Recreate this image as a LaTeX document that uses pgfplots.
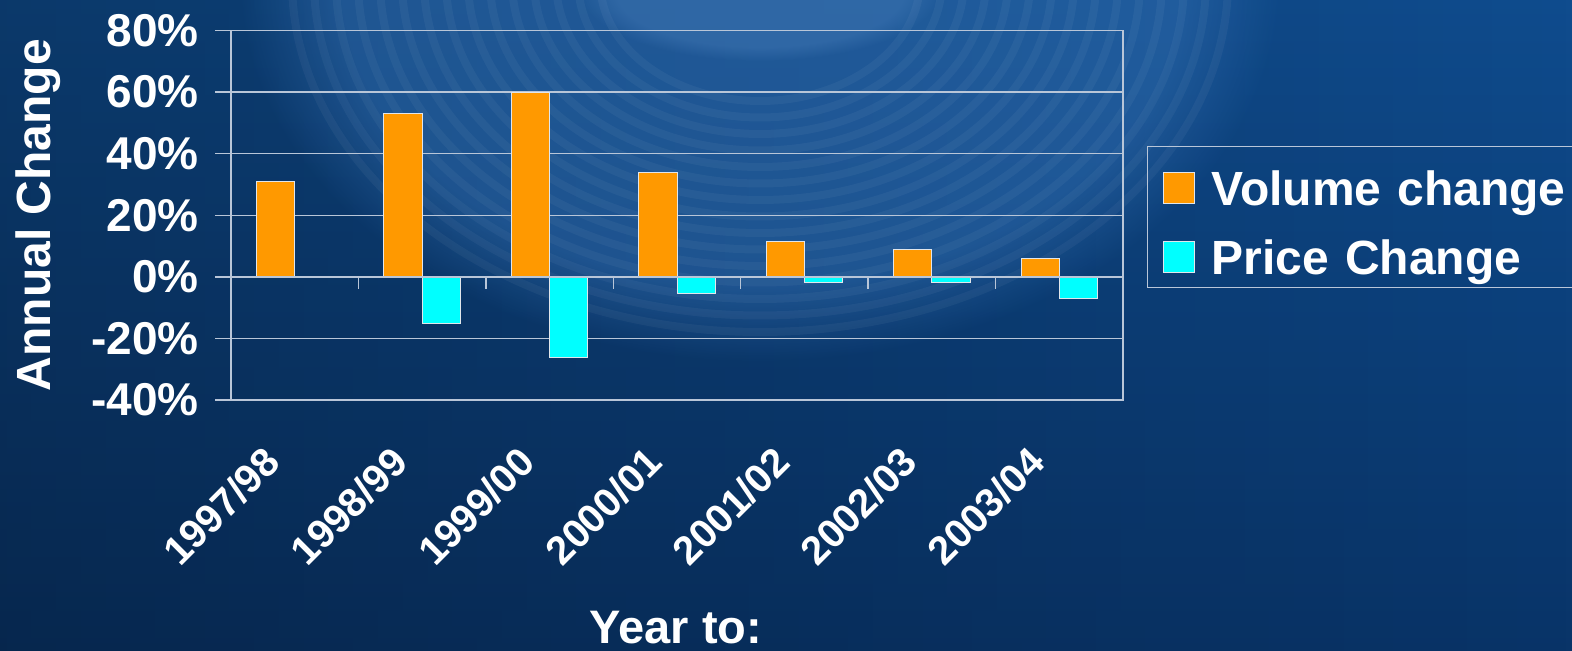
\documentclass[border=0pt]{standalone}
\usepackage{pgfplots}
\pgfplotsset{compat=1.18}
\usepackage{fontspec}
\setmainfont{Liberation Sans}
\usetikzlibrary{fadings}

\definecolor{bgtop}{RGB}{15,76,142}
\definecolor{bgbot}{RGB}{9,52,104}
\definecolor{ripple}{RGB}{55,118,188}
\definecolor{gridc}{RGB}{185,198,216}
\definecolor{volc}{RGB}{255,153,0}
\definecolor{pricec}{RGB}{0,255,255}
\definecolor{barline}{RGB}{225,230,235}

\pgfplotsset{
  swatch/.style={legend image code/.code={\draw[##1, line width=0.5pt] (0pt,0.85pt) rectangle (15.5pt,16.35pt);}},
  panel/.style={at={(115.5pt,125.5pt)}, anchor=south west,
    width=446pt, height=184.75pt, scale only axis,
    xmin=-0.5, xmax=6.5, ymin=-40, ymax=80},
}

\begin{document}
\begin{tikzpicture}
% backdrop: dark blue with a water ripple near the top
\shade[top color=bgtop, bottom color=bgbot] (0,0) rectangle (786pt,325.5pt);
\fill[black, opacity=0.25, path fading=east] (0,0) rectangle (786pt,325.5pt);
\begin{scope}
  \clip (0,0) rectangle (786pt,325.5pt);
  \fill[ripple, opacity=0.45, path fading=circle with fuzzy edge 20 percent]
    (380pt,335pt) ellipse [x radius=260pt, y radius=190pt];
  \fill[ripple!85!white, opacity=0.3, path fading=circle with fuzzy edge 20 percent]
    (380pt,330pt) ellipse [x radius=90pt, y radius=35pt];
  \foreach \r in {80,91,...,240}
    \draw[white, opacity=0.045, line width=4pt] (380pt,335pt) ellipse [x radius=\r pt, y radius={0.75*\r pt}];
\end{scope}

\begin{axis}[panel,
  axis line style={gridc, line width=0.7pt},
  ymajorgrids, grid style={gridc, line width=0.7pt},
  ytick={-40,-20,...,80}, ytick pos=left,
  yticklabels={-40\%,-20\%,0\%,20\%,40\%,60\%,80\%},
  y tick style={gridc, line width=0.7pt},
  tick align=outside, major tick length=8pt,
  yticklabel style={anchor=east, inner sep=0pt, xshift=-8pt,
    font=\bfseries\fontsize{23pt}{23pt}\selectfont, text=white},
  xtick={0,...,6},
  xticklabels={1997/98,1998/99,1999/00,2000/01,2001/02,2002/03,2003/04},
  x tick style={draw=none},
  xticklabel style={xshift=-11pt, yshift=-19.5pt, rotate=45, anchor=east, inner sep=0pt,
    font=\bfseries\fontsize{20pt}{20pt}\selectfont, text=white},
  ylabel={Annual Change},
  ylabel style={at={(axis description cs:-0.2029,0.5)}, anchor=base,
    font=\bfseries\fontsize{24pt}{24pt}\selectfont, text=white},
  xlabel={Year to:},
  xlabel style={at={(axis description cs:0.4989,-0.658)}, anchor=base,
    font=\bfseries\fontsize{23.5pt}{23.5pt}\selectfont, text=white},
  legend style={at={(axis description cs:1.0269,0.6874)}, anchor=north west,
    draw=gridc, fill=none, line width=0.7pt,
    inner xsep=7.5pt, inner ysep=3.5pt, row sep=5.5pt, column sep=8.5pt,
    font=\bfseries\fontsize{24pt}{24pt}\selectfont, text=white,
    nodes={anchor=base, inner sep=0pt, text height=26pt, text depth=3pt, text width=190pt, align=left}},
  legend cell align=left,
]
\addplot[ybar, bar width=0.3, bar shift=-0.15, fill=volc, draw=barline, line width=0.5pt, swatch]
  coordinates {(0,31) (1,53) (2,60) (3,34) (4,11.5) (5,9) (6,6)};
\addlegendentry{Volume change}
\addplot[ybar, bar width=0.3, bar shift=0.15, fill=pricec, draw=barline, line width=0.5pt, swatch]
  coordinates {(1,-15.3) (2,-26.2) (3,-5.3) (4,-2) (5,-2) (6,-7)};
\addlegendentry{Price Change}
\end{axis}

% category separators on the zero line
\begin{axis}[panel,
  axis x line=middle, axis y line=none,
  axis line style={gridc, line width=0.7pt, -},
  xtick={0.5,1.5,...,5.5}, xticklabels={},
  tick align=outside, major tick length=6pt,
  x tick style={gridc, line width=0.7pt},
  ytick=\empty]
\end{axis}

\pgfresetboundingbox
\useasboundingbox (0,0) rectangle (786pt,325.5pt);
\end{tikzpicture}
\end{document}
